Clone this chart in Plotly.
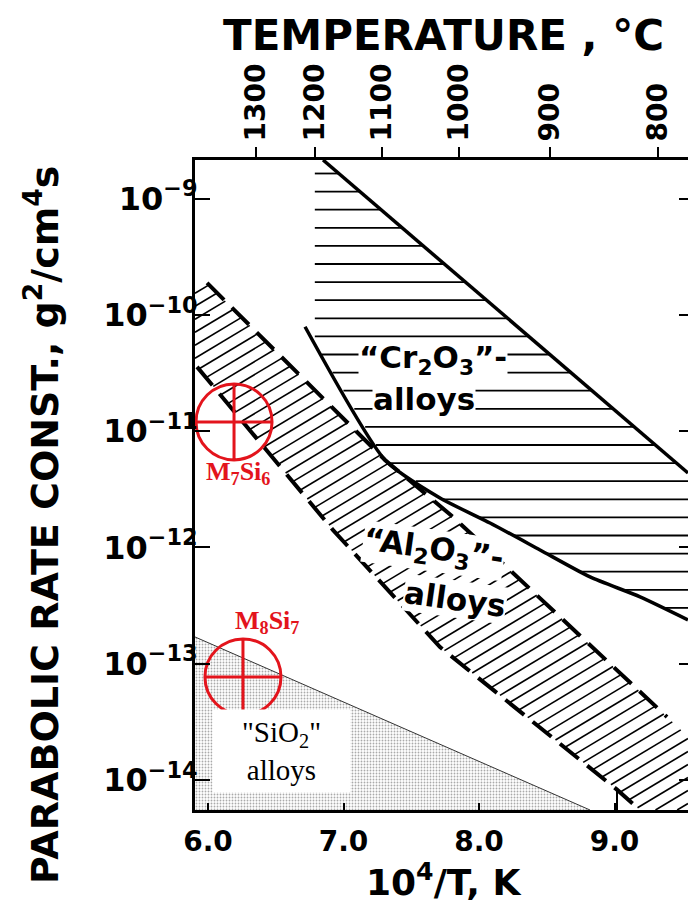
import numpy as np
import plotly.graph_objects as go

# ---- axis windows: 1e4/T (K^-1) and log10 of parabolic rate constant ----
x_range = [5.904, 9.542]
logk_range = [-14.258, -8.669]

# "Cr2O3"-forming alloys: upper and lower boundaries
cr_upper_x = [6.849, 9.542]
cr_upper_logk = [-8.669, -11.360]
cr_lower_x = [6.716, 7.306, 7.712, 8.081, 8.450, 8.819, 9.188, 9.542]
cr_lower_logk = [-10.103, -11.248, -11.575, -11.790, -12.022, -12.254, -12.425, -12.623]
cr_onset_C = 1200  # hatched band begins at this temperature

# "Al2O3"-forming alloys: dashed band limits
al_upper_x = [5.993, 7.306, 7.808, 9.387]
al_upper_logk = [-9.726, -11.248, -11.738, -13.458]
al_lower_x = [5.919, 6.554, 6.923, 7.712, 8.354, 9.018, 9.188]
al_lower_logk = [-10.448, -11.334, -11.851, -12.857, -13.459, -14.083, -14.258]

# "SiO2"-forming alloys: upper limit
sio2_x = [5.904, 8.819]
sio2_logk = [-12.77, -14.258]

# silicide measurements
silicide_names = ["M<sub>7</sub>Si<sub>6</sub>", "M<sub>8</sub>Si<sub>7</sub>"]
silicide_x = [6.192, 6.258]
silicide_k = [1.2e-11, 7.7e-14]

# tick definitions
temp_ticks_C = [1300, 1200, 1100, 1000, 900, 800]
x_ticks = [6.0, 7.0, 8.0, 9.0]
k_tick_exp = [-9, -10, -11, -12, -13, -14]

# ---- layout geometry ----
W, H = 688, 910
ML, MR, MT, MB = 195, 0, 160, 100
PW, PH = W - ML - MR, H - MT - MB
kx = PW / (x_range[1] - x_range[0])
ky = PH / (logk_range[1] - logk_range[0])

SANS = "DejaVu Sans"
SERIF = "Liberation Serif"
RED = "#e3141c"
x_min, x_max = x_range
l_bot, l_top = logk_range


def pow10(vals):
    return [None if v is None else 10 ** v for v in vals]


def paper_x(px):
    return (px - ML) / PW


def paper_y(py):
    return (MT + PH - py) / PH


def hatch_lines(px, pl, slope, step, phase=None):
    """Clip parallel lines v = slope*u + c (screen-proportional units) to a polygon."""
    u = (np.asarray(px) - x_min) * kx
    v = (np.asarray(pl) - l_bot) * ky
    cvals = v - slope * u
    n = len(u)
    if phase is None:
        start = cvals.min() + step / 2
    else:
        start = phase + np.ceil((cvals.min() - phase) / step) * step
    hx, hy = [], []
    for c in np.arange(start, cvals.max(), step):
        hits = []
        for i in range(n):
            j = (i + 1) % n
            d1 = v[i] - slope * u[i] - c
            d2 = v[j] - slope * u[j] - c
            if (d1 > 0) != (d2 > 0):
                t = d1 / (d1 - d2)
                hits.append(u[i] + t * (u[j] - u[i]))
        hits.sort()
        for a, b in zip(hits[0::2], hits[1::2]):
            for uu in (a, b):
                hx.append(x_min + uu / kx)
                hy.append(l_bot + (slope * uu + c) / ky)
            hx.append(None)
            hy.append(None)
    return hx, hy


fig = go.Figure()

# ---- SiO2 stippled region ----
si_px = [x_min, sio2_x[1], x_min]
si_pl = [sio2_logk[0], sio2_logk[1], l_bot]
fig.add_trace(go.Scatter(
    x=si_px, y=pow10(si_pl), mode="none", fill="toself",
    fillcolor="white",
    fillpattern=dict(shape=".", size=3, solidity=0.3, fgcolor="#555555", bgcolor="white"),
    hoverinfo="skip"))
fig.add_trace(go.Scatter(
    x=sio2_x, y=pow10(sio2_logk), mode="lines",
    line=dict(color="#333333", width=1), hoverinfo="skip"))

# ---- Cr2O3 band with horizontal hatching ----
x_cr0 = 1e4 / (cr_onset_C + 273.15)
cr_lo_at0 = float(np.interp(x_cr0, cr_lower_x, cr_lower_logk))
cr_keep = [(x, l) for x, l in zip(reversed(cr_lower_x), reversed(cr_lower_logk)) if x > x_cr0]
cr_px = [x_cr0] + cr_upper_x + [p[0] for p in cr_keep] + [x_cr0]
cr_pl = [l_top] + cr_upper_logk + [p[1] for p in cr_keep] + [cr_lo_at0]
chx, chy = hatch_lines(cr_px, cr_pl, slope=0.0, step=18.1, phase=3.0)
fig.add_trace(go.Scatter(
    x=chx, y=pow10(chy), mode="lines", line=dict(color="black", width=1.8),
    hoverinfo="skip"))

# ---- Al2O3 band with oblique hatching ----
end_slope = (al_upper_logk[-1] - al_upper_logk[-2]) / (al_upper_x[-1] - al_upper_x[-2])
al_right = al_upper_logk[-1] + end_slope * (x_max - al_upper_x[-1])
al_px = [x_min] + al_upper_x + [x_max, x_max] + list(reversed(al_lower_x)) + [x_min]
al_pl = [al_upper_logk[0]] + al_upper_logk + [al_right, l_bot] + list(reversed(al_lower_logk)) + [al_lower_logk[0]]
hx, hy = hatch_lines(al_px, al_pl, slope=0.6, step=13)
fig.add_trace(go.Scatter(
    x=hx, y=pow10(hy), mode="lines", line=dict(color="black", width=1.6),
    hoverinfo="skip"))

# ---- boundary lines ----
fig.add_trace(go.Scatter(
    x=cr_upper_x, y=pow10(cr_upper_logk), mode="lines",
    line=dict(color="black", width=3.5), hoverinfo="skip"))
fig.add_trace(go.Scatter(
    x=cr_lower_x, y=pow10(cr_lower_logk), mode="lines",
    line=dict(color="black", width=3.5, shape="spline", smoothing=0.6), hoverinfo="skip"))
for bx, bl in ((al_upper_x, al_upper_logk), (al_lower_x, al_lower_logk)):
    fig.add_trace(go.Scatter(
        x=bx, y=pow10(bl), mode="lines",
        line=dict(color="black", width=4, dash="24px,11px"), hoverinfo="skip"))
fig.add_trace(go.Scatter(
    x=[al_lower_x[-2], al_lower_x[-2]], y=pow10([al_lower_logk[-2], l_bot]), mode="lines",
    line=dict(color="black", width=2), hoverinfo="skip"))

# ---- silicide data points ----
fig.add_trace(go.Scatter(
    x=silicide_x, y=silicide_k, mode="markers", cliponaxis=False,
    marker=dict(symbol="circle-cross-open", size=76, color=RED,
                line=dict(color=RED, width=3)),
    hoverinfo="skip"))

# helper traces so the secondary (top / right) axes are drawn
fig.add_trace(go.Scatter(x=[x_min], y=[1e-12], xaxis="x2", mode="markers",
                         marker=dict(opacity=0), hoverinfo="skip"))
fig.add_trace(go.Scatter(x=[x_min], y=[1e-12], yaxis="y2", mode="markers",
                         marker=dict(opacity=0), hoverinfo="skip"))

# ---- region labels ----
ann = []
lab_font = dict(family=SANS, size=31, color="black", weight="bold")


def label(x, y, text, **kw):
    d = dict(x=x, y=y, xref="x", yref="y", showarrow=False, text=text,
             xanchor="center", yanchor="middle", font=lab_font,
             bgcolor="white", borderpad=0)
    d.update(kw)
    if d["bgcolor"] is None:
        d.pop("bgcolor")
    ann.append(d)


label(7.595, -10.72, "alloys")
label(7.661, -10.385, "\u201cCr<sub>2</sub>O<sub>3</sub>\u201d-")
label(7.823, -12.445, "alloys", textangle=8)
label(7.661, -12.03, "\u201cAl<sub>2</sub>O<sub>3</sub>\u201d-", textangle=8)
label(6.543, -13.75, "\"SiO<sub>2</sub>\"<br>alloys",
      font=dict(family=SERIF, size=29, color="black"), width=137, height=82)

# silicide names next to their markers
label(silicide_x[0], np.log10(silicide_k[0]), silicide_names[0], xshift=4, yshift=-51,
      bgcolor=None, font=dict(family=SERIF, size=26, color=RED, weight="bold"))
label(silicide_x[1], np.log10(silicide_k[1]), silicide_names[1], xshift=24, yshift=55,
      bgcolor=None, font=dict(family=SERIF, size=26, color=RED, weight="bold"))

# ---- axis titles ----
title_font = dict(family=SANS, color="black", weight="bold")
ann.append(dict(x=paper_x(443), y=paper_y(36), xref="paper", yref="paper",
                xanchor="center", yanchor="middle", showarrow=False,
                text="TEMPERATURE , \u00b0C", font=dict(title_font, size=42)))
ann.append(dict(x=paper_x(443), y=paper_y(880), xref="paper", yref="paper",
                xanchor="center", yanchor="middle", showarrow=False,
                text="10<sup>4</sup>/T, K", font=dict(title_font, size=36)))
ann.append(dict(x=paper_x(42), y=paper_y(525), xref="paper", yref="paper",
                xanchor="center", yanchor="middle", showarrow=False, textangle=-90,
                text="PARABOLIC RATE CONST., g<sup>2</sup>/cm<sup>4</sup>s",
                font=dict(title_font, size=38)))

tick_font = dict(family=SANS, size=28, color="black", weight="bold")
k_tickvals = [10.0 ** e for e in k_tick_exp]

fig.update_layout(
    width=W, height=H,
    margin=dict(l=ML, r=MR, t=MT, b=MB, pad=0),
    paper_bgcolor="white", plot_bgcolor="white",
    showlegend=False,
    annotations=ann,
    xaxis=dict(range=x_range, tickvals=x_ticks, ticktext=[f"{v:.1f}" for v in x_ticks],
               ticks="inside", ticklen=7, tickwidth=2, tickcolor="black",
               showline=True, linewidth=3, linecolor="black", mirror=True,
               showgrid=False, zeroline=False, tickfont=tick_font,
               ticklabelstandoff=4),
    xaxis2=dict(overlaying="x", side="top", range=x_range,
                tickvals=[1e4 / (t + 273.15) for t in temp_ticks_C],
                ticktext=[str(t) for t in temp_ticks_C],
                ticks="outside", ticklen=12, tickwidth=2, tickcolor="black",
                tickangle=-90, showline=False, showgrid=False, zeroline=False,
                tickfont=tick_font),
    yaxis=dict(type="log", range=logk_range, tickvals=k_tickvals,
               ticktext=[f"10<sup>\u2212{-e}</sup>" for e in k_tick_exp],
               ticks="inside", ticklen=15, tickwidth=2, tickcolor="black",
               showline=True, linewidth=3, linecolor="black", mirror=False,
               showgrid=False, zeroline=False, ticklabelstandoff=-12,
               tickfont=dict(family=SANS, size=32, color="black", weight="bold")),
    yaxis2=dict(type="log", overlaying="y", side="right", range=logk_range,
                tickvals=k_tickvals, ticks="inside", ticklen=9, tickwidth=2,
                tickcolor="black", showticklabels=False, showline=False,
                showgrid=False, zeroline=False),
)

fig.write_html("out.html")
